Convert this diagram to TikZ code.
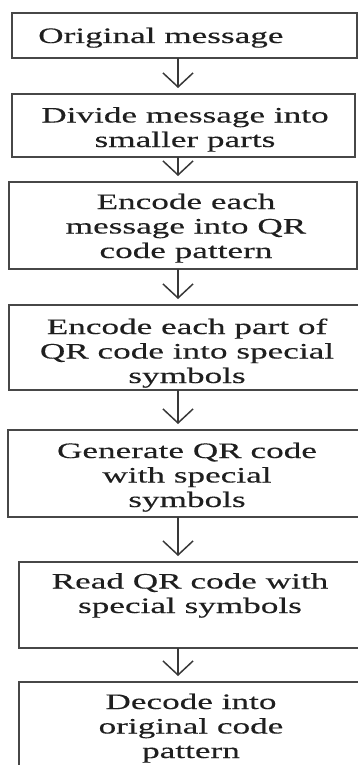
\documentclass[tikz,border=0pt]{standalone}
\usepackage{fontspec}
\setmainfont[FakeStretch=1.6,FakeBold=0.3]{Liberation Serif}
\usetikzlibrary{arrows.meta}
\begin{document}
\begin{tikzpicture}[x=1pt,y=-1pt,
  stepbox/.style={draw=black!72,line width=1.6pt,inner sep=0pt,outer sep=0pt,anchor=north west},
  lbl/.style={inner sep=0pt,align=center,text=black!88,font=\fontsize{22}{24.5}\selectfont,anchor=base},
  flow/.style={draw=black!78,line width=1.5pt,-{Straight Barb[length=14pt,width=30pt,line width=1.5pt]},shorten >=6pt}]
\useasboundingbox (0,0) rectangle (358,765);
\clip (0,0) rectangle (358,765);
% boxes
\node[stepbox,minimum width=345pt,minimum height=45pt] (b1) at (12,13) {};
\node[stepbox,minimum width=343pt,minimum height=63pt] (b2) at (12,94) {};
\node[stepbox,minimum width=348pt,minimum height=87pt] (b3) at (9,182) {};
\node[stepbox,minimum width=360pt,minimum height=85pt] (b4) at (9,305) {};
\node[stepbox,minimum width=360pt,minimum height=87pt] (b5) at (8,430) {};
\node[stepbox,minimum width=350pt,minimum height=86pt] (b6) at (19,562) {};
\node[stepbox,minimum width=350pt,minimum height=100pt] (b7) at (19,682) {};
% texts (anchor = baseline of last line)
\node[lbl,anchor=base west] (t1) at (38,43) {Original message};
\node[lbl] (t2) at (185,147) {Divide message into\\smaller parts};
\node[lbl] (t3) at (186,258) {Encode each\\message into QR\\code pattern};
\node[lbl] (t4) at (187,383) {Encode each part of\\QR code into special\\symbols};
\node[lbl] (t5) at (187,507) {Generate QR code\\with special\\symbols};
\node[lbl] (t6) at (190,613) {Read QR code with\\special symbols};
\node[lbl] (t7) at (191,758) {Decode into\\original code\\pattern};
% arrows
\coordinate (ax) at (178,0);
\draw[flow] (b1.south -| ax) -- (b2.north -| ax);
\draw[flow] (b2.south -| ax) -- (b3.north -| ax);
\draw[flow] (b3.south -| ax) -- (b4.north -| ax);
\draw[flow] (b4.south -| ax) -- (b5.north -| ax);
\draw[flow] (b5.south -| ax) -- (b6.north -| ax);
\draw[flow] (b6.south -| ax) -- (b7.north -| ax);
\end{tikzpicture}
\end{document}
